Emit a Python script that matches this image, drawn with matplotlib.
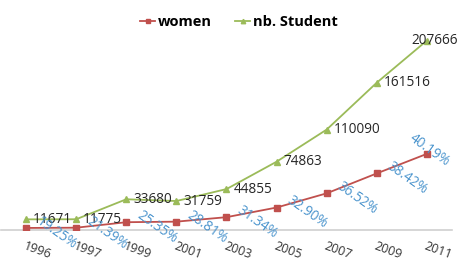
import matplotlib
matplotlib.use('Agg')
import matplotlib.pyplot as plt

years = ['1996', '1997', '1999', '2001', '2003', '2005', '2007', '2009', '2011']
students = [11671, 11775, 33680, 31759, 44855, 74863, 110090, 161516, 207666]
women = [2247, 2519, 8538, 9150, 14058, 24630, 40205, 62054, 83461]
women_pct = ['19.25%', '21.39%', '25.35%', '28.81%', '31.34%', '32.90%', '36.52%', '38.42%', '40.19%']

plt.rcParams['font.family'] = ['Open Sans', 'DejaVu Sans']

red = '#c0504d'
green = '#9bbb59'
blue = '#4a94cd'

fig = plt.figure(figsize=(4.6, 2.64), dpi=100)
ax = fig.add_axes([1 / 460, 34 / 264, 451 / 460, 219 / 264])

x = list(range(len(years)))
ax.plot(x, women, color=red, marker='s', markersize=4, linewidth=1.3, label='women', zorder=3)
ax.plot(x, students, color=green, marker='^', markersize=4, linewidth=1.3, label='nb. Student', zorder=3)

# student counts, black, right of point
for i, v in enumerate(students):
    dx = -16 if i == len(students) - 1 else 7
    ax.annotate(str(v), (i, v), xytext=(dx, 0), textcoords='offset pixels',
                ha='left', va='center', fontsize=9.8, color='#262626', zorder=4)

# women share, blue, rotated
for i, (v, p) in enumerate(zip(women, women_pct)):
    dx, dy = (12, 8) if i < len(women) - 1 else (-16, 17)
    ax.annotate(p, (i, v), xytext=(dx, dy), textcoords='offset pixels',
                ha='left', va='center', rotation=-35, rotation_mode='anchor',
                fontsize=9.8, color=blue, zorder=4)

ax.set_xlim(-0.5, len(years) - 0.5)
ax.set_ylim(0, 240000)
ax.set_xticks(x)
ax.set_xticklabels(years, rotation=-20, ha='left', rotation_mode='anchor',
                   fontsize=9, color='#333333')
ax.tick_params(axis='x', length=0, pad=7)
ax.set_yticks([])
for s in ['top', 'right', 'left']:
    ax.spines[s].set_visible(False)
ax.spines['bottom'].set_color('#d0d0d0')
ax.spines['bottom'].set_linewidth(1.2)
ax.patch.set_visible(False)

fig.legend(loc='center', bbox_to_anchor=(239 / 460, 1 - 22 / 264), ncol=2, frameon=False,
           prop={'weight': 'bold', 'size': 10.5}, handlelength=1.0, handletextpad=0.2,
           columnspacing=1.6, markerscale=0.8)

fig.savefig('out.png', dpi=100)
